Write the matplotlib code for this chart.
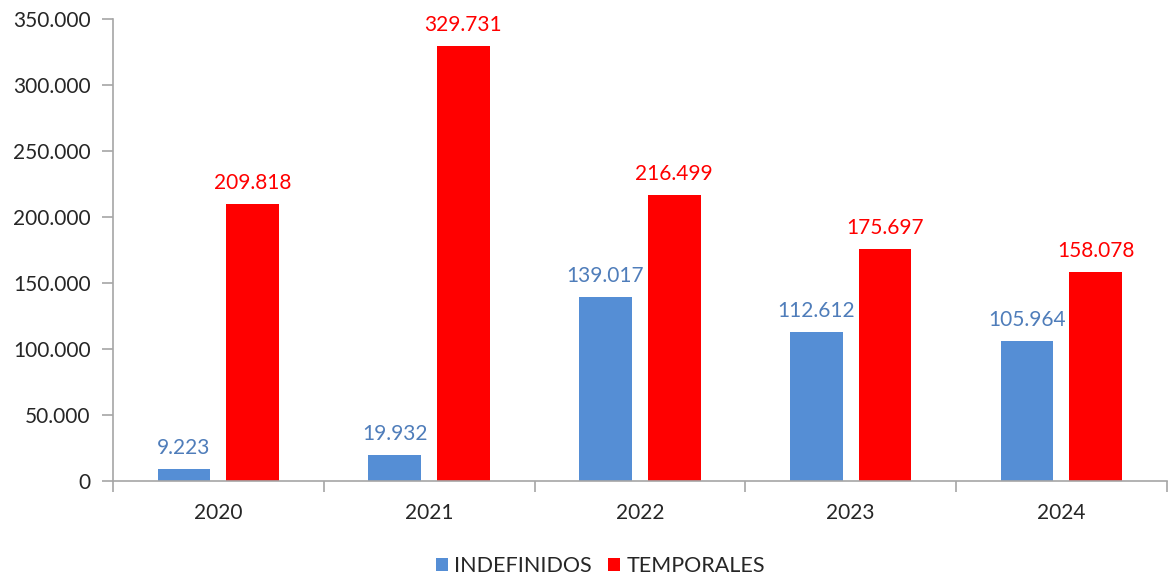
import numpy as np
import matplotlib.pyplot as plt
from matplotlib.ticker import FuncFormatter

years = ['2020', '2021', '2022', '2023', '2024']
indefinidos = [9223, 19932, 139017, 112612, 105964]
temporales = [209818, 329731, 216499, 175697, 158078]

plt.rcParams['font.family'] = ['Lato', 'DejaVu Sans']

fig = plt.figure(figsize=(11.68, 5.75), dpi=100)
ax = fig.add_axes([0.0967, 0.1635, 0.9023, 0.8035])

x = np.arange(len(years))
w = 0.25
off = 0.163
b1 = ax.bar(x - off, indefinidos, w, color='#558ED5', label='INDEFINIDOS')
b2 = ax.bar(x + off, temporales, w, color='#FF0000', label='TEMPORALES')

def miles(v, pos=None):
    return f'{int(v):,}'.replace(',', '.')

for bars, vals, col in [(b1, indefinidos, '#4F7DBA'), (b2, temporales, '#FF0000')]:
    for r, v in zip(bars, vals):
        ax.annotate(miles(v), (r.get_x() + r.get_width() / 2, v),
                    xytext=(0, 8), textcoords='offset points',
                    ha='center', va='bottom', fontsize=15, color=col)

ax.set_xlim(-0.5, len(years) - 0.5)
ax.set_ylim(0, 350000)
ax.set_yticks(np.arange(0, 350001, 50000))
ax.yaxis.set_major_formatter(FuncFormatter(miles))

ax.set_xticks(x)
ax.set_xticklabels(years)
ax.set_xticks(np.arange(-0.5, len(years)), minor=True)
ax.tick_params(axis='x', which='major', length=0, pad=16, labelsize=15, labelcolor='#262626')
ax.tick_params(axis='x', which='minor', length=8, color='#A6A6A6', width=1.2)
ax.tick_params(axis='y', length=8, color='#A6A6A6', width=1.2, labelsize=15,
               labelcolor='#262626', pad=8)

for s in ['top', 'right']:
    ax.spines[s].set_visible(False)
for s in ['left', 'bottom']:
    ax.spines[s].set_color('#A6A6A6')
    ax.spines[s].set_linewidth(1.2)

fig.legend(handles=[b1, b2], loc='lower center', bbox_to_anchor=(0.514, -0.035),
           ncol=2, frameon=False, fontsize=15.5, handlelength=0.55, handleheight=0.55,
           handletextpad=0.3, columnspacing=0.75, labelcolor='#262626')

fig.savefig('out.png', dpi=100)
